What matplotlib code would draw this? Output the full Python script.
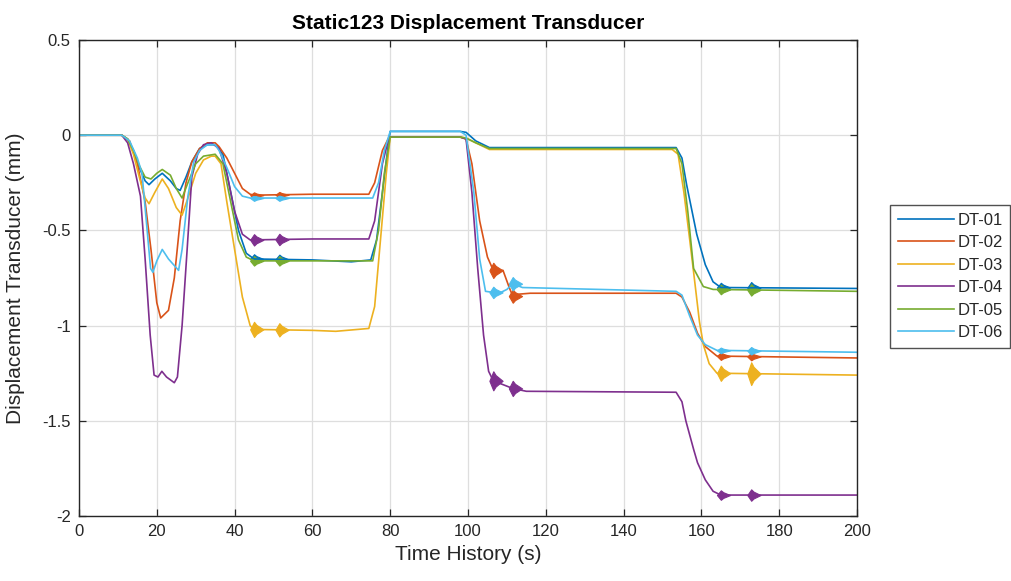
import numpy as np
import matplotlib
matplotlib.use("Agg")
import matplotlib.pyplot as plt

plt.rcParams['font.family'] = ['Liberation Sans', 'DejaVu Sans']
plt.rcParams['axes.unicode_minus'] = False

# ---------------- data ----------------
names = ["DT-01", "DT-02", "DT-03", "DT-04", "DT-05", "DT-06"]
colors = ["#0072BD", "#D95319", "#EDB120", "#7E2F8E", "#77AC30", "#4DBEEE"]

dt01_t = [0, 11, 12.5, 14, 15.5, 17, 18, 19.5, 21.4, 23.5, 25, 26, 27.5, 29, 31, 33, 35,
          37, 39, 41, 43, 45, 60, 70, 75, 76.5, 78, 79.5, 80, 98, 99.5, 102, 105.5,
          153.5, 155, 156.2, 158.8, 161, 163, 165, 200]
dt01_v = [0, 0, -0.02, -0.08, -0.17, -0.24, -0.26, -0.23, -0.2, -0.24, -0.28, -0.29, -0.22, -0.14, -0.07, -0.05, -0.05,
          -0.1, -0.3, -0.5, -0.62, -0.65, -0.655, -0.665, -0.655, -0.55, -0.3, -0.05, 0.02, 0.02, 0.015, -0.03, -0.065,
          -0.065, -0.12, -0.26, -0.52, -0.68, -0.77, -0.8, -0.805]

dt02_t = [0, 11, 13, 15, 17, 18.5, 20, 21, 22, 23, 24.5, 26, 27.5, 29, 31, 33, 35,
          36, 38, 40, 42, 44, 45, 60, 74.5, 76, 78, 79.7, 98, 99.5, 101, 103, 105, 106.5,
          109, 110.6, 111.5, 113, 116, 153.5, 155, 157, 159, 161, 164, 200]
dt02_v = [0, 0, -0.03, -0.15, -0.35, -0.6, -0.88, -0.96, -0.94, -0.92, -0.75, -0.45, -0.25, -0.14, -0.07, -0.04, -0.04,
          -0.06, -0.12, -0.2, -0.28, -0.31, -0.315, -0.31, -0.31, -0.25, -0.08, -0.01, -0.01, -0.02, -0.15, -0.45, -0.64, -0.71,
          -0.71, -0.8, -0.845, -0.835, -0.83, -0.83, -0.85, -0.93, -1.04, -1.11, -1.16, -1.17]

dt03_t = [0, 11, 12.5, 14, 15.5, 17, 18, 19.5, 21.4, 23, 25, 26.5, 28, 30, 32, 34, 35,
          36.5, 38, 40, 42, 44, 45, 60, 66, 74.5, 76, 77.5, 79, 80, 98, 99.5, 102, 105.5,
          152.5, 154, 155.5, 157, 158, 159.5, 160.5, 162, 164, 200]
dt03_v = [0, 0, -0.02, -0.1, -0.22, -0.33, -0.36, -0.3, -0.23, -0.28, -0.38, -0.42, -0.33, -0.2, -0.13, -0.11, -0.11,
          -0.15, -0.35, -0.6, -0.85, -1.0, -1.02, -1.025, -1.03, -1.015, -0.9, -0.55, -0.2, -0.01, -0.01, -0.015, -0.04, -0.075,
          -0.075, -0.1, -0.3, -0.55, -0.72, -0.98, -1.1, -1.2, -1.25, -1.26]

dt04_t = [0, 11, 12.5, 14, 15.8, 17, 18.3, 19.3, 20.3, 21.3, 22.5, 24.5, 25.3, 26.5, 27.8, 29, 30.5, 32, 34,
          36, 38, 40, 42, 44, 60, 74.5, 76, 78, 79.7, 98, 99.5, 101, 102.5, 104, 105.3, 106.5,
          109, 111.5, 115, 153.5, 155, 156, 158, 159, 161, 163, 165, 200]
dt04_v = [0, 0, -0.04, -0.15, -0.32, -0.65, -1.05, -1.26, -1.27, -1.24, -1.27, -1.3, -1.27, -1.0, -0.6, -0.22, -0.1, -0.05, -0.04,
          -0.07, -0.2, -0.4, -0.52, -0.55, -0.545, -0.545, -0.45, -0.15, -0.01, -0.01, -0.02, -0.3, -0.7, -1.05, -1.24, -1.29,
          -1.31, -1.33, -1.345, -1.35, -1.4, -1.5, -1.65, -1.72, -1.81, -1.87, -1.89, -1.89]

dt05_t = [0, 11, 12.5, 14, 15.5, 17, 18.5, 20, 21.4, 23.5, 25, 26.5, 28, 30, 32, 35,
          37, 39, 41, 43, 45, 60, 75.5, 77, 78.5, 80, 98, 99.5, 102, 105.5,
          153.5, 155, 156.5, 158, 160.5, 163, 200]
dt05_v = [0, 0, -0.02, -0.08, -0.16, -0.22, -0.23, -0.2, -0.18, -0.21, -0.28, -0.33, -0.25, -0.15, -0.11, -0.1,
          -0.15, -0.35, -0.55, -0.64, -0.66, -0.66, -0.66, -0.5, -0.2, -0.01, -0.01, -0.015, -0.04, -0.07,
          -0.07, -0.15, -0.4, -0.7, -0.795, -0.81, -0.82]

dt06_t = [0, 11, 13, 15, 16.2, 17.3, 18.4, 19, 20, 21.4, 23, 25.6, 26.5, 28, 29.5, 31, 33, 35,
          36, 38, 40, 42, 44, 60, 75.5, 77, 78.5, 80, 98, 99.5, 101.5, 103, 104.5,
          108, 110, 111.5, 114, 153.5, 155, 157, 159, 161, 164, 200]
dt06_v = [0, 0, -0.03, -0.12, -0.2, -0.45, -0.7, -0.72, -0.66, -0.6, -0.65, -0.71, -0.6, -0.32, -0.14, -0.08, -0.05, -0.05,
          -0.08, -0.17, -0.27, -0.32, -0.33, -0.33, -0.33, -0.25, -0.08, 0.02, 0.02, 0.0, -0.3, -0.65, -0.82,
          -0.83, -0.81, -0.78, -0.8, -0.82, -0.84, -0.95, -1.05, -1.1, -1.13, -1.14]

# vibration bursts: times and half-amplitude per series (mm)
burst_t = [45, 51.5, 106.5, 111.5, 165, 172.8]
burst_amp = {
    "DT-01": [0.025, 0.025, 0.0, 0.0, 0.025, 0.03],
    "DT-02": [0.015, 0.015, 0.04, 0.035, 0.02, 0.02],
    "DT-03": [0.04, 0.035, 0.0, 0.0, 0.04, 0.06],
    "DT-04": [0.03, 0.03, 0.05, 0.04, 0.025, 0.03],
    "DT-05": [0.025, 0.025, 0.0, 0.0, 0.025, 0.03],
    "DT-06": [0.015, 0.015, 0.03, 0.035, 0.015, 0.02],
}

series_t = [dt01_t, dt02_t, dt03_t, dt04_t, dt05_t, dt06_t]
series_v = [dt01_v, dt02_v, dt03_v, dt04_v, dt05_v, dt06_v]

xticks = [0, 20, 40, 60, 80, 100, 120, 140, 160, 180, 200]
yticks = [0.5, 0, -0.5, -1, -1.5, -2]
ytick_labels = ["0.5", "0", "-0.5", "-1", "-1.5", "-2"]

# ---------------- figure ----------------
W, H = 1011, 581
fig = plt.figure(figsize=(W / 100, H / 100), dpi=100)
ax = fig.add_axes([79 / W, 1 - 516 / H, (857 - 79) / W, (516 - 40) / H])

txt = "#262626"
for name, col, t, v in zip(names, colors, series_t, series_v):
    ax.plot(t, v, color=col, lw=1.2, label=name, solid_joinstyle="round")
    for bt, a in zip(burst_t, burst_amp[name]):
        if a <= 0:
            continue
        base = np.interp(bt, t, v)
        bx = [bt - 1.0, bt, bt + 0.6, bt + 2.4]
        lo = [base, base - a, base - 0.6 * a, base]
        hi = [base, base + a, base + 0.6 * a, base]
        ax.fill_between(bx, lo, hi, color=col, lw=0.8, edgecolor=col)

ax.set_xlim(0, 200)
ax.set_ylim(-2, 0.5)
ax.set_xticks(xticks)
ax.set_xticklabels([str(x) for x in xticks])
ax.set_yticks(yticks)
ax.set_yticklabels(ytick_labels)
ax.grid(True, color="#dedede", lw=0.9)
ax.set_axisbelow(True)
for s in ax.spines.values():
    s.set_color(txt)
    s.set_linewidth(1.0)
ax.tick_params(direction="in", length=5, width=0.9, colors=txt, labelsize=12,
               top=True, right=True, pad=6)

ax.set_title("Static123 Displacement Transducer", fontsize=15, fontweight="bold",
             color="black", pad=8)
ax.set_xlabel("Time History (s)", fontsize=15, color=txt, labelpad=4)
ax.set_ylabel("Displacement Transducer (mm)", fontsize=15, color=txt, labelpad=12)

leg = fig.legend(loc="upper left", bbox_to_anchor=(890 / W, 1 - 205 / H),
                 fontsize=12, frameon=True, fancybox=False, borderaxespad=0,
                 handlelength=3.4, handletextpad=0.2, labelspacing=0.45,
                 borderpad=0.45)
leg.get_frame().set_edgecolor(txt)
leg.get_frame().set_linewidth(1.0)
for tx in leg.get_texts():
    tx.set_color(txt)
for ln in leg.get_lines():
    ln.set_linewidth(1.2)

fig.savefig("out.png", dpi=100, facecolor="white")
